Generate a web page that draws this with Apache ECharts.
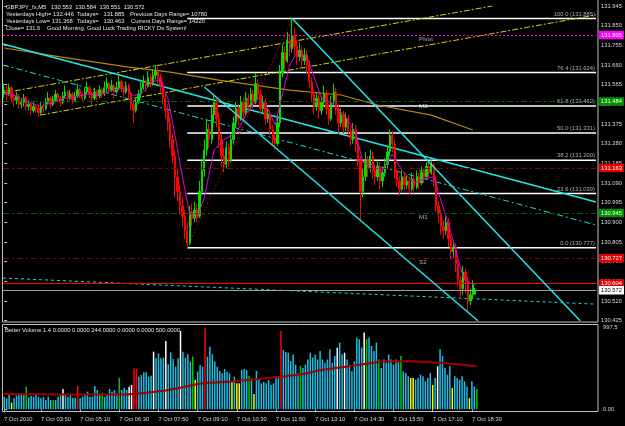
<!DOCTYPE html>
<html>
<head>
<meta charset="utf-8">
<script src="https://cdn.jsdelivr.net/npm/echarts@6/dist/echarts.min.js"></script>
<style>
html, body { margin: 0; padding: 0; background: #000; }
#chart { width: 625px; height: 426px; }
</style>
</head>
<body>
<div id="chart"></div>
<script>
// GBPJPY M5, 7 Oct 2010 — candles as [open, close, low, high]
const candles = [
  [131.52,131.54,131.50,131.57],[131.54,131.52,131.49,131.56],[131.52,131.55,131.51,131.57],[131.55,131.50,131.48,131.56],
  [131.50,131.49,131.46,131.52],[131.49,131.51,131.47,131.53],[131.51,131.47,131.45,131.52],[131.47,131.48,131.45,131.50],
  [131.48,131.50,131.46,131.52],[131.50,131.46,131.44,131.51],[131.46,131.47,131.44,131.49],[131.47,131.44,131.42,131.48],
  [131.44,131.46,131.43,131.48],[131.46,131.45,131.43,131.47],[131.45,131.43,131.41,131.47],[131.43,131.46,131.42,131.48],
  [131.46,131.45,131.43,131.48],[131.45,131.48,131.44,131.50],[131.48,131.50,131.47,131.53],[131.50,131.47,131.45,131.51],
  [131.47,131.49,131.46,131.51],[131.49,131.52,131.48,131.54],[131.52,131.50,131.48,131.53],[131.50,131.48,131.46,131.51],
  [131.48,131.51,131.47,131.53],[131.51,131.53,131.50,131.56],[131.53,131.50,131.48,131.54],[131.50,131.52,131.49,131.54],
  [131.52,131.49,131.47,131.53],[131.49,131.51,131.48,131.53],[131.51,131.54,131.50,131.57],[131.54,131.52,131.50,131.55],
  [131.52,131.50,131.48,131.53],[131.50,131.53,131.49,131.55],[131.53,131.55,131.52,131.58],[131.55,131.52,131.50,131.56],
  [131.52,131.50,131.47,131.53],[131.50,131.53,131.49,131.55],[131.53,131.51,131.49,131.54],[131.51,131.54,131.50,131.56],
  [131.54,131.52,131.50,131.55],[131.52,131.55,131.51,131.58],[131.55,131.57,131.53,131.60],[131.57,131.54,131.52,131.58],
  [131.54,131.56,131.53,131.59],[131.56,131.53,131.50,131.57],[131.53,131.55,131.52,131.58],[131.55,131.58,131.54,131.61],
  [131.58,131.55,131.53,131.59],[131.55,131.53,131.50,131.56],[131.53,131.56,131.52,131.58],[131.56,131.52,131.49,131.57],
  [131.52,131.47,131.44,131.53],[131.47,131.44,131.38,131.49],[131.44,131.48,131.43,131.50],[131.48,131.52,131.47,131.54],
  [131.52,131.55,131.50,131.58],[131.55,131.58,131.54,131.61],[131.58,131.56,131.53,131.59],[131.56,131.60,131.55,131.63],
  [131.60,131.57,131.55,131.62],[131.57,131.61,131.56,131.64],[131.61,131.63,131.59,131.66],[131.63,131.60,131.57,131.65],
  [131.60,131.56,131.53,131.62],[131.56,131.50,131.47,131.58],[131.50,131.44,131.40,131.52],[131.44,131.38,131.34,131.47],
  [131.38,131.30,131.26,131.41],[131.30,131.22,131.18,131.33],[131.22,131.12,131.02,131.25],[131.12,131.05,131.00,131.16],
  [131.05,130.98,130.94,131.08],[130.98,130.93,130.88,131.02],[130.93,130.86,130.82,130.96],[130.86,130.80,130.777,130.90],
  [130.80,130.95,130.79,130.98],[130.95,130.92,130.88,130.99],[130.92,130.96,130.90,131.00],[130.96,130.93,130.90,130.99],
  [130.93,131.05,130.92,131.10],[131.05,131.15,131.03,131.20],[131.15,131.25,131.12,131.30],[131.25,131.35,131.22,131.40],
  [131.35,131.30,131.26,131.38],[131.30,131.42,131.28,131.46],[131.42,131.48,131.38,131.52],[131.48,131.40,131.36,131.50],
  [131.40,131.30,131.26,131.43],[131.30,131.22,131.17,131.33],[131.22,131.18,131.14,131.26],[131.18,131.26,131.16,131.29],
  [131.26,131.20,131.17,131.28],[131.20,131.30,131.19,131.33],[131.30,131.38,131.28,131.41],[131.38,131.45,131.36,131.48],
  [131.45,131.40,131.37,131.47],[131.40,131.48,131.39,131.51],[131.48,131.43,131.40,131.50],[131.43,131.50,131.42,131.53],
  [131.50,131.46,131.43,131.52],[131.46,131.52,131.45,131.55],[131.52,131.48,131.45,131.54],[131.48,131.57,131.47,131.62],
  [131.57,131.52,131.49,131.59],[131.52,131.45,131.42,131.54],[131.45,131.48,131.43,131.51],[131.48,131.40,131.37,131.50],
  [131.40,131.42,131.38,131.45],[131.42,131.35,131.32,131.44],[131.35,131.30,131.27,131.37],[131.30,131.28,131.25,131.33],
  [131.28,131.38,131.27,131.42],[131.38,131.62,131.36,131.66],[131.62,131.72,131.60,131.76],[131.72,131.68,131.64,131.75],
  [131.68,131.78,131.67,131.82],[131.78,131.74,131.70,131.81],[131.74,131.80,131.72,131.885],[131.80,131.75,131.71,131.84],
  [131.75,131.70,131.66,131.78],[131.70,131.73,131.68,131.77],[131.73,131.68,131.65,131.75],[131.68,131.71,131.66,131.74],
  [131.71,131.66,131.62,131.73],[131.66,131.58,131.55,131.68],[131.58,131.52,131.48,131.60],[131.52,131.46,131.42,131.54],
  [131.46,131.50,131.44,131.53],[131.50,131.44,131.40,131.52],[131.44,131.48,131.42,131.51],[131.48,131.52,131.46,131.56],
  [131.52,131.45,131.42,131.54],[131.45,131.40,131.37,131.47],[131.40,131.48,131.39,131.51],[131.48,131.53,131.46,131.57],
  [131.53,131.45,131.42,131.55],[131.45,131.38,131.33,131.47],[131.38,131.42,131.36,131.45],[131.42,131.36,131.33,131.44],
  [131.36,131.40,131.34,131.43],[131.40,131.34,131.31,131.42],[131.34,131.30,131.27,131.36],[131.30,131.35,131.28,131.38],
  [131.35,131.28,131.24,131.37],[131.28,131.20,131.17,131.30],[131.20,131.05,130.91,131.22],[131.05,131.12,131.02,131.16],
  [131.12,131.20,131.10,131.24],[131.20,131.16,131.12,131.22],[131.16,131.22,131.14,131.25],[131.22,131.15,131.11,131.24],
  [131.15,131.12,131.08,131.18],[131.12,131.17,131.10,131.20],[131.17,131.10,131.06,131.19],[131.10,131.14,131.07,131.17],
  [131.14,131.18,131.12,131.21],[131.18,131.24,131.16,131.27],[131.24,131.32,131.22,131.35],[131.32,131.28,131.24,131.34],
  [131.28,131.14,131.11,131.30],[131.14,131.10,131.07,131.16],[131.10,131.06,131.03,131.12],[131.06,131.12,131.05,131.15],
  [131.12,131.08,131.05,131.14],[131.08,131.10,131.06,131.13],[131.10,131.06,131.03,131.12],[131.06,131.11,131.05,131.14],
  [131.11,131.07,131.04,131.13],[131.07,131.12,131.06,131.15],[131.12,131.09,131.06,131.14],[131.09,131.14,131.08,131.17],
  [131.14,131.12,131.09,131.16],[131.12,131.17,131.11,131.19],[131.17,131.14,131.12,131.19],[131.14,131.18,131.13,131.20],
  [131.18,131.10,131.07,131.19],[131.10,130.98,130.95,131.12],[130.98,130.94,130.90,131.00],[130.94,130.88,130.84,130.96],
  [130.88,130.86,130.82,130.91],[130.86,130.90,130.84,130.93],[130.90,130.82,130.78,130.92],[130.82,130.76,130.72,130.84],
  [130.76,130.78,130.73,130.81],[130.78,130.70,130.66,130.80],[130.70,130.62,130.59,130.72],[130.62,130.58,130.54,130.64],
  [130.58,130.66,130.55,130.69],[130.66,130.62,130.56,130.68],[130.62,130.52,130.463,130.64],[130.52,130.55,130.50,130.58],
  [130.55,130.60,130.53,130.62],[130.553,130.572,130.551,130.584]
];

// Better Volume histogram, one value per candle
const volumes = [
  154,133,174,81,133,166,182,174,174,275,
  142,162,154,174,154,133,150,113,154,113,113,113,154,186,247,174,154,174,142,
  142,284,133,154,174,215,154,154,284,235,194,202,154,174,247,215,235,194,385,
  235,263,235,275,296,499,490,397,417,450,450,397,409,701,620,681,620,628,831,
  547,693,612,519,620,953,701,628,669,580,641,357,458,539,519,985,641,762,669,
  580,519,466,438,490,458,438,344,397,316,316,478,490,478,405,377,186,466,357,
  316,336,316,357,296,316,377,397,953,
  721,696,688,585,667,544,442,532,503,544,
  606,688,627,667,606,708,606,565,606,729,
  565,647,750,811,667,688,606,544,462,585,
  873,852,750,934,852,873,770,708,811,606,
  503,606,565,667,606,544,606,585,647,462,
  442,402,381,381,361,381,421,402,340,381,
  442,298,381,524,729,647,503,421,524,258,
  402,381,361,402,340,278,135,340,278,246
];
// bars that Better Volume flags (everything else is a normal bar)
const volKinds = {
  3:'low', 9:'churn', 20:'churn', 24:'climaxDown', 30:'climaxUp', 40:'churn', 47:'churn',
  51:'climaxDown', 52:'climaxDown', 53:'climaxUp', 54:'climaxUp', 61:'climaxDown', 66:'climaxDown',
  72:'climaxDown', 77:'churn', 78:'low', 82:'climaxUp', 93:'low', 95:'low', 96:'low', 100:'churn',
  102:'low', 113:'climaxUp', 121:'churn', 136:'climaxDown', 139:'climaxDown', 147:'climaxDown',
  148:'churn', 153:'churn', 162:'churn', 166:'low', 167:'low', 175:'low', 177:'climaxDown',
  183:'low', 190:'low', 193:'churn'
};
const volumeMA = [[0,186],[20,180],[48,180],[64,222],[72,262],[80,312],[94,342],[108,380],[122,430],
  [130,480],[146,545],[155,580],[165,585],[178,565],[193,524]];

// moving averages on price, [bar, price]
const fastMA = [[0,131.52],[5,131.51],[10,131.48],[15,131.46],[20,131.48],[25,131.50],[30,131.51],[35,131.52],
  [40,131.52],[45,131.54],[50,131.55],[53,131.51],[57,131.53],[61,131.58],[64,131.59],[67,131.50],[70,131.32],
  [73,131.12],[76,130.94],[79,130.92],[82,131.02],[86,131.25],[90,131.30],[95,131.33],[100,131.44],[104,131.50],
  [108,131.45],[111,131.37],[114,131.52],[117,131.66],[120,131.72],[124,131.70],[127,131.60],[130,131.50],
  [135,131.47],[140,131.41],[144,131.33],[147,131.19],[150,131.17],[155,131.15],[159,131.23],[163,131.15],
  [168,131.09],[172,131.11],[176,131.12],[178,131.04],[181,130.93],[184,130.81],[186,130.72],[188,130.64],
  [190,130.61],[193,130.60]];
const slowMA = [[0,131.742],[23,131.699],[51,131.650],[68,131.626],[88,131.587],[117,131.539],[138,131.515],
  [153,131.467],[175,131.418],[192,131.346]];

// drawn objects, end points as [bar, price]
const cyanSolid = [[-0.5,131.761],[242.5,130.998]];
const cyanDashDot = [[-0.5,131.660],[242.5,130.887]];
const cyanDotted = [[-0.5,130.631],[242.5,130.505]];
const channelUpper = [[118,131.885],[236,130.425]];
const channelLower = [[82,131.554],[194.1,130.425]];
const yellowLower = [[14.6,131.418],[242.5,131.902]];
const yellowUpper = [[-0.5,131.525],[200,131.945]];
const fibDiagonal = [[75,130.777],[118,131.885]];
const fibStart = 75;
const fibLevels = [[100.0,131.885],[76.4,131.624],[61.8,131.462],[50.0,131.331],[38.2,131.200],[23.6,131.039],[0.0,130.777]];
const pivotLevels = [['Pivot',131.805],['M2',131.484],['S1',131.163],['M1',130.945],['S2',130.727]];
const pivotLabelBar = 170.2;
const redLevel = 130.604;
const bidPrice = 130.572;

const timeTicks = [[0,'7 Oct 2010'],[15,'7 Oct 03:50'],[31,'7 Oct 05:10'],[47,'7 Oct 06:30'],[63,'7 Oct 07:50'],
  [79,'7 Oct 09:10'],[95,'7 Oct 10:30'],[111,'7 Oct 11:50'],[127,'7 Oct 13:10'],[143,'7 Oct 14:30'],
  [159,'7 Oct 15:50'],[175,'7 Oct 17:10'],[191,'7 Oct 18:30']];

const SLOTS = 243; // visible bar slots incl. the empty shift area
const FONT = '"Liberation Sans", Arial, sans-serif';
const FS = 5.8;
const TXT = '#d8d8d8';

const tickMap = new Map(timeTicks);
const slots = Array.from({ length: SLOTS }, (_, i) => i);
const kindColor = { normal: '#1ebee6', climaxUp: '#ff0000', climaxDown: '#ffffff', churn: '#00c800', low: '#ffff00' };

const chart = echarts.init(document.getElementById('chart'));

function seg(data, color, width, type) {
  return {
    type: 'line', xAxisIndex: 2, yAxisIndex: 0, data: data, symbol: 'none', silent: true,
    lineStyle: { color: color, width: width, type: type || 'solid' }, z: 3
  };
}
function tag(bg, fg) {
  return {
    show: true, position: 'end', distance: 3, formatter: (p) => p.name,
    backgroundColor: bg, color: fg, padding: [1.5, 2, 1, 2], fontSize: FS, fontFamily: FONT
  };
}

const series = [];
fibLevels.forEach(([pct, p]) => series.push(seg([[fibStart, p], [SLOTS - 0.5, p]], '#ffffff', 1.5)));
series.push({
  type: 'scatter', xAxisIndex: 2, yAxisIndex: 0, symbolSize: 1, silent: true,
  itemStyle: { color: 'transparent' },
  data: fibLevels.map(([pct, p]) => [SLOTS - 0.8, p, pct.toFixed(1) + ' (' + p.toFixed(3) + ')']),
  label: { show: true, position: [0, -1], align: 'right', verticalAlign: 'bottom', formatter: (d) => d.data[2],
    color: TXT, fontSize: FS, fontFamily: FONT }
});
series.push({
  type: 'scatter', xAxisIndex: 2, yAxisIndex: 0, symbolSize: 1, silent: true,
  itemStyle: { color: 'transparent' },
  data: pivotLevels.map(([name, p]) => [pivotLabelBar, p, name]),
  label: { show: true, position: [0, 2], align: 'left', verticalAlign: 'top', formatter: (d) => d.data[2],
    color: TXT, fontSize: FS + 0.4, fontFamily: FONT }
});
series.push(seg(slowMA, '#b8860b', 1.2));
series.push(seg(yellowUpper, '#d6d600', 1, [6, 2, 2, 2]));
series.push(seg(yellowLower, '#d6d600', 1, [6, 2, 2, 2]));
series.push(seg(cyanSolid, '#20e8e8', 1.5));
series.push(seg(cyanDashDot, '#20d8d8', 1, [6, 3, 2, 3]));
series.push(seg(cyanDotted, '#20d8d8', 1, [3, 3]));
series.push(seg(fibDiagonal, '#a00000', 1, [2, 2]));

const mLines = pivotLevels.map(([name, p]) => {
  const isM = name[0] === 'M';
  const isPivot = name === 'Pivot';
  return {
    yAxis: p, name: p.toFixed(3),
    lineStyle: isPivot ? { color: '#ff00ff', type: [2, 2], width: 1 }
      : { color: isM ? '#006400' : '#8b0000', type: [6, 3, 2, 3], width: 1.2 },
    label: tag(isPivot ? '#ff00ff' : (isM ? '#009000' : '#e00000'), '#ffffff')
  };
});
mLines.push({ yAxis: redLevel, name: redLevel.toFixed(3), lineStyle: { color: '#ff0000', width: 1, type: 'solid' }, label: tag('#e00000', '#ffffff') });
mLines.push({ yAxis: bidPrice, name: bidPrice.toFixed(3), lineStyle: { color: '#a0a0a0', width: 1, type: 'solid' }, label: tag('#ffffff', '#000000') });

series.push({
  type: 'candlestick', xAxisIndex: 0, yAxisIndex: 0, data: candles, barWidth: 1.8, z: 4,
  itemStyle: { color: '#00e000', color0: '#ff0000', borderColor: '#00e000', borderColor0: '#ff0000', borderWidth: 1 },
  markLine: { symbol: ['none', 'none'], silent: true, animation: false, precision: 3, data: mLines }
});
series.push(Object.assign(seg(fastMA, '#e000e0', 1), { z: 5 }));
series.push(Object.assign(seg(channelUpper, '#20e8e8', 1.5), { z: 6 }));
series.push(Object.assign(seg(channelLower, '#20e8e8', 1.5), { z: 6 }));

series.push({
  type: 'bar', xAxisIndex: 1, yAxisIndex: 1, barWidth: 1.5, silent: true,
  data: volumes.map((v, i) => ({ value: v, itemStyle: { color: kindColor[volKinds[i] || 'normal'] } }))
});
series.push({
  type: 'line', xAxisIndex: 3, yAxisIndex: 1, data: volumeMA, symbol: 'none', smooth: 0.3, silent: true,
  lineStyle: { color: '#a00000', width: 2 }, z: 5
});

const tickInterval = (idx) => tickMap.has(idx);

chart.setOption({
  backgroundColor: '#000000',
  animation: false,
  textStyle: { fontFamily: FONT },
  grid: [
    { left: 3, right: 27, top: 6, height: 314.7 },
    { left: 3, right: 27, top: 327.3, height: 82 }
  ],
  xAxis: [
    { type: 'category', gridIndex: 0, data: slots, show: false },
    {
      type: 'category', gridIndex: 1, data: slots,
      axisLine: { show: false },
      axisTick: { show: true, interval: tickInterval, alignWithLabel: true, length: 3, lineStyle: { color: '#c0c0c0' } },
      axisLabel: {
        interval: tickInterval, formatter: (v) => tickMap.get(Number(v)) || '', align: 'left',
        margin: 7, color: TXT, fontSize: FS, fontFamily: FONT
      }
    },
    { type: 'value', gridIndex: 0, min: -0.5, max: SLOTS - 0.5, show: false },
    { type: 'value', gridIndex: 1, min: -0.5, max: SLOTS - 0.5, show: false }
  ],
  yAxis: [
    {
      type: 'value', gridIndex: 0, position: 'right', min: 130.425, max: 131.945, interval: 0.095, scale: true,
      splitLine: { show: false }, axisLine: { show: false },
      axisTick: { show: true, length: 3, lineStyle: { color: '#c0c0c0' } },
      axisLabel: { formatter: (v) => v.toFixed(3), margin: 5, color: TXT, fontSize: FS, fontFamily: FONT }
    },
    {
      type: 'value', gridIndex: 1, position: 'right', min: 0, max: 997.5, interval: 997.5,
      splitLine: { show: false }, axisLine: { show: false },
      axisTick: { show: true, length: 3, lineStyle: { color: '#c0c0c0' } },
      axisLabel: { formatter: (v) => (v === 0 ? '0.00' : v.toFixed(1)), margin: 5, color: TXT, fontSize: FS, fontFamily: FONT }
    }
  ],
  graphic: [
    { type: 'rect', silent: true, z: 0, shape: { x: 2.5, y: -1.5, width: 595.5, height: 323.5 },
      style: { fill: 'transparent', stroke: '#c0c0c0', lineWidth: 1 } },
    { type: 'rect', silent: true, z: 0, shape: { x: 2.5, y: 324.5, width: 595.5, height: 87 },
      style: { fill: 'transparent', stroke: '#c0c0c0', lineWidth: 1 } },
    ...[
      [6, 7, 'GBPJPY_fx,M5   130.553  130.584  130.551  130.572'],
      [6, 14, 'Yesterdays High= 132.446'], [77, 14, 'Todays=   131.885'], [130, 14, 'Previous Days Range= 10780'],
      [6, 21, 'Yesterdays Low= 131.368'], [77, 21, 'Todays=   130.463'], [131, 21, 'Current Days Range= 14220'],
      [6, 28, 'Close= 131.6'], [47, 28, 'Good Morning, Good Luck Trading RICKY Ds System!'],
      [5, 330.5, 'Better Volume 1.4 0.0000 0.0000 244.0000 0.0000 0.0000 500.0000']
    ].map(([x, y, t]) => ({
      type: 'text', silent: true, z: 100, x: x, y: y,
      style: { text: t, fill: '#e8e8e8', font: FS + 'px ' + FONT, verticalAlign: 'middle', textVerticalAlign: 'middle' }
    }))
  ],
  series: series
});
</script>
</body>
</html>
